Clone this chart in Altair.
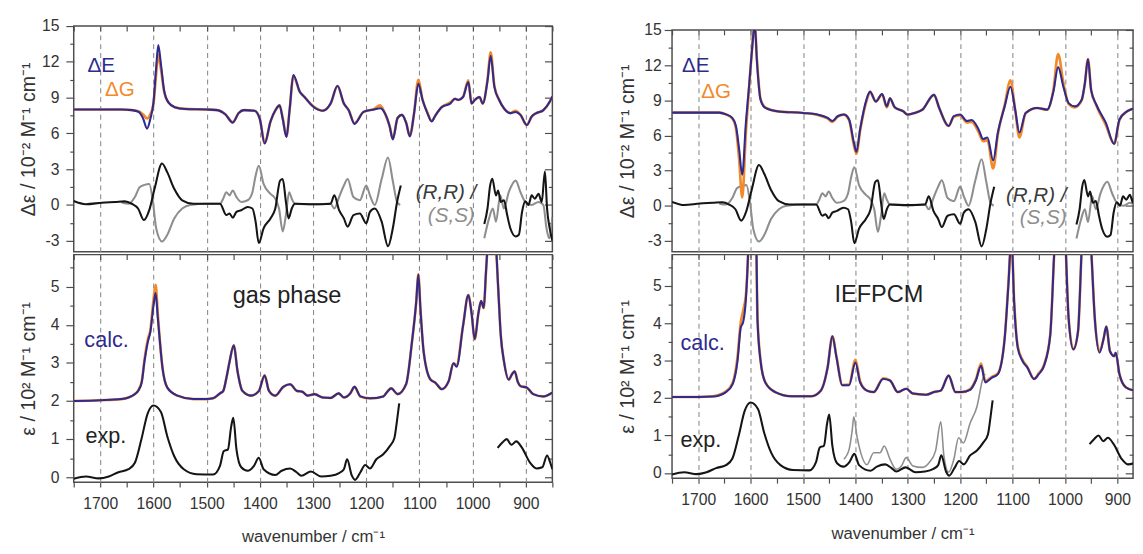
import altair as alt
import pandas as pd

# ---------------- data ----------------
# experimental VCD, (R,R) enantiomer (black), two recorded windows
CD_RR_W1 = [1750, 1727, 1697, 1672, 1654, 1641, 1629, 1618, 1608, 1598, 1584, 1574, 1561, 1546, 1525, 1488, 1475, 1463, 1457, 1451,
            1444, 1435, 1423, 1414, 1408, 1402, 1393, 1380, 1371, 1362, 1357, 1351, 1346, 1340, 1334, 1300, 1267, 1260, 1251, 1242,
            1235, 1224, 1212, 1200, 1193, 1184, 1171, 1159, 1150, 1142, 1135]
CD_RR_V1 = [0.33, 0.06, 0.19, 0.25, 0.3, 0.1, -0.3, -1.27, -0.44, 1.35, 3.47, 2.73, 1.35, 0.39, 0.1, 0.1, 0.1, -0.85, -0.72, -1.07,
            -0.58, -0.44, -0.17, -0.3, -1.4, -3.2, -1.96, -1.13, -0.3, 2.04, 2.17, 0.25, -1.13, -0.3, 0.1, 0.05, 0.1, 0.8, -0.44, -1.13,
            -1.82, -0.85, -0.72, -1.54, -0.58, -0.3, -1.4, -3.47, -1.96, 0.25, 1.63]
CD_RR_W2 = [978, 972, 967, 963, 956, 952, 947, 941, 935, 929, 919, 913, 907, 901, 895, 889, 883, 876, 870, 864, 860, 855, 850]
CD_RR_V2 = [-1.6, -0.3, 1.63, 2.2, 0.8, 1.21, 0.25, 0.4, -0.85, -1.96, -2.64, -2.5, -0.58, 0.3, 0.0, 0.8, 0.52, 0.93, 0.25, 2.8,
            -0.3, -1.96, -3.0]
# experimental VCD, (S,S) enantiomer (grey)
CD_SS_W1 = [1660, 1647, 1635, 1626, 1617, 1608, 1601, 1595, 1584, 1574, 1561, 1546, 1531, 1500, 1475, 1469, 1463, 1457, 1451, 1444,
            1435, 1423, 1414, 1408, 1402, 1393, 1380, 1371, 1364, 1357, 1351, 1345, 1340, 1334, 1300, 1267, 1260, 1251, 1242, 1235,
            1224, 1212, 1200, 1193, 1184, 1171, 1159, 1150, 1142, 1136]
CD_SS_V1 = [0.2, 0.1, 0.66, 1.49, 1.68, 1.76, 0.25, -1.96, -3.06, -2.5, -1.13, -0.3, 0.0, 0.1, 0.1, 0.52, 1.07, 0.8, 1.21, 0.66,
            0.25, 0.39, 1.07, 2.45, 3.28, 1.76, 0.93, 0.52, -0.3, -2.23, -0.85, 1.07, 0.52, 0.1, 0.05, 0.1, -0.3, 0.66, 1.63, 2.17,
            0.66, 0.39, 1.63, 0.8, 0.0, 2.17, 3.97, 2.0, 0.25, 0.0]
CD_SS_W2 = [978, 969, 962, 956, 948, 941, 932, 919, 910, 901, 889, 876, 867, 861, 856, 850]
CD_SS_V2 = [-2.8, -1.13, -0.3, -1.4, 0.8, -0.3, 1.07, 2.04, 1.07, 0.25, 0.0, 0.25, 0.0, -1.96, -2.8, -1.0]

# experimental IR absorption (black)
IR_EXP_W1 = [1750, 1727, 1703, 1684, 1666, 1647, 1635, 1623, 1611, 1600, 1586, 1574, 1561, 1543, 1519, 1488, 1475, 1468, 1460, 1454,
             1450, 1444, 1435, 1423, 1411, 1402, 1393, 1371, 1359, 1343, 1331, 1322, 1304, 1285, 1267, 1251, 1242, 1236, 1227, 1221,
             1211, 1202, 1193, 1181, 1168, 1156, 1147, 1142, 1138]
IR_EXP_V1 = [-0.04, 0.02, -0.03, 0.02, 0.13, 0.21, 0.38, 0.98, 1.67, 1.88, 1.71, 1.07, 0.55, 0.21, 0.08, 0.07, 0.3, 0.68, 0.73, 1.32,
             1.56, 0.73, 0.26, 0.17, 0.3, 0.51, 0.21, 0.06, 0.17, 0.23, 0.13, 0.04, 0.15, 0.02, 0.04, 0.11, 0.21, 0.47, 0.04, -0.07,
             0.13, 0.32, 0.23, 0.47, 0.6, 0.81, 1.03, 1.5, 1.94]
IR_EXP_W2 = [953, 944, 936, 927, 918, 907, 892, 880, 869, 860, 854, 850]
IR_EXP_V2 = [0.77, 0.91, 1.0, 0.85, 0.94, 0.77, 0.38, 0.23, 0.26, 0.57, 0.38, 0.21]
# second experimental IR trace (grey, IEFPCM panel only)
IR_EXP2_W = [1422, 1412, 1406, 1403, 1397, 1390, 1378, 1365, 1353, 1345, 1334, 1322, 1312, 1303, 1290, 1272, 1259, 1247, 1237, 1231,
             1222, 1212, 1203, 1194, 1181, 1168, 1156, 1152]
IR_EXP2_V = [0.37, 0.63, 1.15, 1.5, 0.98, 0.55, 0.22, 0.54, 0.54, 0.72, 0.37, 0.1, 0.19, 0.41, 0.19, 0.15, 0.28, 0.59, 1.37, 0.45,
             0.02, 0.37, 0.94, 0.8, 1.33, 1.77, 2.55, 2.64]

# gas phase, calculated VCD (offset +8)
GAS_VCD_W = [1750, 1700, 1660, 1640, 1628, 1620, 1612, 1606, 1600, 1595, 1591, 1586, 1580, 1572, 1560, 1540, 1500, 1480, 1465, 1451,
             1440, 1430, 1410, 1400, 1391, 1380, 1370, 1363, 1357, 1350, 1344, 1337, 1325, 1316, 1300, 1282, 1267, 1254, 1242, 1233,
             1222, 1205, 1185, 1174, 1165, 1156, 1150, 1141, 1133, 1125, 1118, 1110, 1102, 1094, 1085, 1077, 1070, 1058, 1042, 1033,
             1027, 1018, 1008, 1002, 996, 987, 981, 972, 966, 959, 950, 941, 929, 919, 910, 898, 889, 880, 867, 855, 850]
GAS_VCD_DE = [8.0, 8.0, 8.0, 7.95, 7.8, 7.3, 6.4, 7.2, 8.6, 11.5, 13.4, 11.8, 9.6, 8.6, 8.2, 8.05, 8.0, 7.95, 7.6, 6.9,
              7.7, 7.95, 7.9, 7.2, 5.15, 7.0, 8.0, 8.35, 7.2, 5.7, 8.0, 10.9, 9.5, 9.05, 8.25, 7.9, 8.5, 10.0, 8.5, 7.95,
              6.8, 7.8, 8.0, 8.1, 7.7, 6.6, 5.5, 7.3, 7.55, 6.9, 5.75, 7.7, 10.15, 8.8, 7.7, 7.0, 7.5, 8.2, 8.5, 8.9,
              8.8, 9.05, 10.3, 8.5, 8.8, 9.05, 8.5, 10.4, 12.5, 9.9, 8.8, 8.1, 7.7, 7.8, 7.55, 6.7, 7.4, 7.7, 7.95, 8.65, 9.1]
GAS_VCD_DG = [8.0, 8.0, 8.0, 7.95, 7.85, 7.6, 7.25, 7.6, 8.5, 11.0, 12.6, 11.4, 9.5, 8.6, 8.2, 8.05, 8.0, 7.95, 7.6, 6.95,
              7.7, 7.95, 7.9, 7.2, 5.2, 7.0, 8.0, 8.35, 7.3, 5.75, 8.0, 10.8, 9.5, 9.05, 8.3, 7.9, 8.5, 9.95, 8.5, 7.95,
              6.85, 7.8, 8.05, 8.35, 7.7, 6.6, 5.55, 7.3, 7.55, 6.9, 5.8, 7.7, 10.5, 8.8, 7.75, 7.05, 7.5, 8.2, 8.6, 8.9,
              8.8, 9.05, 10.45, 8.5, 8.8, 9.05, 8.5, 10.5, 12.8, 9.95, 8.8, 8.1, 7.7, 7.9, 7.55, 6.7, 7.4, 7.7, 7.95, 8.65, 9.1]

# gas phase, calculated IR (offset +2)
GAS_IR_W = [1750, 1700, 1660, 1647, 1635, 1629, 1622, 1617, 1610, 1606, 1600, 1596, 1592, 1589, 1583, 1574, 1555, 1525, 1500, 1488,
            1475, 1469, 1463, 1457, 1449, 1442, 1433, 1417, 1402, 1391, 1383, 1371, 1356, 1343, 1331, 1320, 1310, 1297, 1282, 1267,
            1252, 1242, 1230, 1222, 1211, 1193, 1168, 1160, 1153, 1141, 1125, 1114, 1106, 1102, 1098, 1092, 1079, 1070, 1058, 1045,
            1036, 1030, 1018, 1008, 1002, 996, 989, 984, 979, 975, 970, 965, 958, 952, 947, 941, 932, 926, 921, 915,
            910, 898, 886, 867, 850]
GAS_IR_DE = [2.0, 2.02, 2.05, 2.09, 2.18, 2.26, 2.5, 3.03, 3.59, 3.8, 4.5, 4.83, 4.2, 3.72, 2.86, 2.35, 2.14, 2.05, 2.05, 2.07,
             2.2, 2.26, 2.6, 3.03, 3.46, 2.78, 2.27, 2.14, 2.26, 2.67, 2.27, 2.14, 2.37, 2.44, 2.27, 2.24, 2.14, 2.18, 2.09, 2.08,
             2.2, 2.09, 2.2, 2.37, 2.12, 2.07, 2.12, 2.25, 2.33, 2.18, 2.44, 3.55, 4.6, 5.32, 4.4, 3.29, 2.56, 2.48, 2.31, 2.52,
             2.99, 2.9, 3.97, 4.78, 4.31, 3.62, 4.31, 4.62, 4.44, 5.34, 6.5, 7.5, 6.6, 5.0, 3.72, 3.04, 2.56, 2.7, 2.78, 2.5,
             2.39, 2.35, 2.18, 2.12, 2.22]
GAS_IR_DG = [2.0, 2.02, 2.05, 2.09, 2.18, 2.27, 2.52, 3.08, 3.65, 3.85, 4.65, 5.05, 4.3, 3.75, 2.86, 2.35, 2.14, 2.05, 2.05, 2.07,
             2.2, 2.26, 2.6, 3.03, 3.46, 2.78, 2.27, 2.14, 2.26, 2.67, 2.27, 2.14, 2.37, 2.44, 2.27, 2.24, 2.14, 2.18, 2.09, 2.08,
             2.2, 2.09, 2.2, 2.37, 2.12, 2.07, 2.12, 2.25, 2.33, 2.18, 2.44, 3.55, 4.6, 5.32, 4.4, 3.29, 2.56, 2.48, 2.31, 2.52,
             2.99, 2.95, 3.97, 4.78, 4.31, 3.62, 4.31, 4.62, 4.44, 5.34, 6.5, 7.5, 6.6, 5.0, 3.72, 3.04, 2.56, 2.7, 2.78, 2.5,
             2.39, 2.35, 2.18, 2.12, 2.22]

# IEFPCM, calculated VCD (offset +8)
PCM_VCD_W = [1750, 1700, 1660, 1647, 1635, 1628, 1622, 1616, 1609, 1603, 1598, 1592, 1588, 1581, 1572, 1547, 1500, 1472, 1453, 1444,
             1434, 1422, 1412, 1403, 1398, 1391, 1379, 1372, 1361, 1349, 1340, 1334, 1325, 1309, 1300, 1287, 1272, 1250, 1240, 1222,
             1212, 1200, 1187, 1178, 1165, 1156, 1148, 1137, 1128, 1115, 1104, 1095, 1087, 1075, 1053, 1034, 1022, 1013, 1003, 993,
             981, 968, 962, 956, 950, 940, 922, 906, 896, 881, 866]
PCM_VCD_DE = [7.95, 7.95, 7.95, 7.8, 7.5, 6.8, 4.85, 2.65, 7.1, 10.2, 12.95, 15.5, 12.4, 9.05, 8.35, 8.05, 7.92, 7.78, 7.5, 7.23,
              7.64, 7.78, 7.36, 5.41, 4.6, 6.53, 9.04, 9.74, 8.9, 9.54, 8.48, 9.18, 8.4, 8.07, 7.78, 7.92, 8.2, 9.46, 8.34, 6.81,
              7.65, 7.78, 7.23, 7.31, 6.53, 5.69, 5.83, 3.88, 6.25, 8.48, 10.16, 8.2, 6.25, 7.92, 8.34, 8.2, 9.74, 11.83, 10.16, 8.76,
              8.48, 9.04, 10.43, 12.53, 9.87, 8.62, 7.09, 5.27, 7.36, 8.07, 8.34]
PCM_VCD_DG = [7.95, 7.95, 7.95, 7.8, 7.45, 6.6, 4.0, 0.7, 6.3, 10.0, 12.95, 15.5, 12.5, 9.1, 8.4, 8.05, 7.92, 7.75, 7.45, 7.15,
              7.6, 7.78, 7.3, 5.2, 4.45, 6.4, 8.9, 9.7, 8.9, 9.5, 8.4, 9.15, 8.4, 8.07, 7.78, 7.92, 8.2, 9.46, 8.34, 6.81,
              7.6, 7.7, 7.1, 7.15, 6.3, 5.5, 5.6, 3.18, 6.1, 8.6, 10.7, 8.2, 5.83, 7.9, 8.34, 8.2, 9.9, 12.95, 10.5, 8.7,
              8.4, 9.0, 10.43, 12.5, 9.87, 8.55, 6.9, 5.3, 7.3, 8.07, 8.34]

# IEFPCM, calculated IR (offset +2)
PCM_IR_W = [1750, 1700, 1672, 1647, 1634, 1625, 1619, 1614, 1609, 1604, 1598, 1592, 1587, 1581, 1572, 1553, 1522, 1484, 1466, 1453,
            1444, 1436, 1425, 1412, 1400, 1391, 1378, 1365, 1347, 1334, 1319, 1303, 1290, 1265, 1250, 1237, 1222, 1209, 1197, 1181,
            1170, 1160, 1152, 1140, 1128, 1115, 1108, 1102, 1097, 1090, 1081, 1072, 1059, 1050, 1040, 1028, 1020, 1010, 1000, 993,
            984, 975, 968, 960, 950, 943, 934, 926, 921, 914, 906, 903, 896, 884, 868]
PCM_IR_DE = [2.03, 2.03, 2.04, 2.16, 2.38, 2.99, 3.87, 4.04, 4.65, 6.2, 10.0, 9.0, 4.13, 2.99, 2.42, 2.16, 2.05, 2.05, 2.2, 2.82,
             3.65, 3.08, 2.34, 2.34, 2.95, 2.42, 2.2, 2.16, 2.51, 2.47, 2.16, 2.25, 2.12, 2.09, 2.16, 2.2, 2.6, 2.16, 2.16, 2.22,
             2.47, 2.86, 2.42, 2.54, 2.64, 3.6, 5.0, 6.3, 4.57, 3.34, 2.99, 2.82, 2.51, 2.64, 2.86, 3.69, 6.0, 8.0, 6.5, 4.13,
             3.3, 3.78, 6.0, 8.0, 6.0, 4.13, 3.21, 3.6, 3.91, 3.25, 3.12, 3.21, 2.64, 2.29, 2.2]
PCM_IR_DG = [2.03, 2.03, 2.05, 2.18, 2.42, 3.1, 4.0, 4.35, 4.75, 6.2, 10.0, 9.0, 4.2, 3.0, 2.42, 2.16, 2.05, 2.05, 2.2, 2.82,
             3.65, 3.1, 2.35, 2.36, 3.02, 2.45, 2.2, 2.16, 2.53, 2.47, 2.16, 2.25, 2.12, 2.09, 2.16, 2.2, 2.6, 2.16, 2.16, 2.24,
             2.5, 2.92, 2.45, 2.56, 2.66, 3.6, 5.05, 6.3, 4.6, 3.37, 3.02, 2.84, 2.51, 2.66, 2.88, 3.7, 6.0, 8.0, 6.5, 4.15,
             3.3, 3.78, 6.0, 8.0, 6.0, 4.13, 3.25, 3.6, 3.91, 3.25, 3.12, 3.21, 2.64, 2.29, 2.2]

# axis ticks
VCD_MAJOR = [-3, 0, 3, 6, 9, 12, 15]
VCD_MINOR = [-1.5, 1.5, 4.5, 7.5, 10.5, 13.5]
IR_MAJOR = [0, 1, 2, 3, 4, 5]
IR_MINOR = [0.5, 1.5, 2.5, 3.5, 4.5, 5.5]
X_LABELS = [900, 1000, 1100, 1200, 1300, 1400, 1500, 1600, 1700]
X_TICKS = [850, 900, 950, 1000, 1050, 1100, 1150, 1200, 1250, 1300, 1350, 1400, 1450, 1500, 1550, 1600, 1650, 1700, 1750]

# ---------------- styling ----------------
FONT = "Liberation Sans"
BLUE = "#2E2A8E"
ORANGE = "#F28A2C"
GRAY = "#8E8E8E"
BLACK = "#151515"
AX = "#4D4D4D"
LBL = "#333333"


def seg_frame(*pairs):
    parts = []
    for i, (w, v) in enumerate(pairs):
        assert len(w) == len(v), (len(w), len(v))
        parts.append(pd.DataFrame({"w": w, "v": v, "seg": i}))
    return pd.concat(parts, ignore_index=True)


def make_panel(xdom, ydom, ymajor, yminor, ytitle, width, height, series, texts,
               bottom_axis, label_pad, title_x):
    xs = alt.Scale(domain=xdom, reverse=True, nice=False, zero=False)
    ys = alt.Scale(domain=ydom, nice=False, zero=False)
    hundreds = [h for h in X_LABELS if xdom[0] <= h <= xdom[1]]
    fifties = [f for f in X_TICKS if xdom[0] <= f <= xdom[1]]
    base_df = series[0][0]

    def ax_layer(xaxis, yaxis):
        return alt.Chart(base_df).mark_line(strokeOpacity=0, clip=True).encode(
            x=alt.X("w:Q", scale=xs, axis=xaxis),
            y=alt.Y("v:Q", scale=ys, axis=yaxis),
            detail="seg:N")

    grid_x = alt.Axis(orient="top", values=hundreds, grid=True, gridDash=[5, 4], gridColor="#8C8C8C",
                      gridWidth=1.1, ticks=False, labels=False, domain=False, title=None)
    top_x = alt.Axis(orient="top", values=fifties, grid=False, ticks=True, tickSize=5, offset=-5,
                     tickColor=AX, tickWidth=1.2, labels=False, domain=False, title=None)
    left_major = alt.Axis(orient="left", values=ymajor, grid=False, tickSize=8, tickColor=AX, tickWidth=1.2,
                          labelFont=FONT, labelFontSize=16, labelColor=LBL, labelPadding=label_pad,
                          labelExpr="replace(datum.label, '\u2212', '-')", labelOverlap=False, labelFlush=False,
                          domain=False, title=ytitle, titleFont=FONT, titleFontSize=20, titleFontWeight="normal",
                          titleColor=LBL, titleX=title_x, titleBaseline="middle")
    left_minor = alt.Axis(orient="left", values=yminor, grid=False, tickSize=4, tickColor=AX, tickWidth=1.2,
                          labels=False, domain=False, title=None)
    right_major = alt.Axis(orient="right", values=ymajor, grid=False, tickSize=8, offset=-8, tickColor=AX,
                           tickWidth=1.2, labels=False, domain=False, title=None)
    right_minor = alt.Axis(orient="right", values=yminor, grid=False, tickSize=4, offset=-4, tickColor=AX,
                           tickWidth=1.2, labels=False, domain=False, title=None)
    if bottom_axis:
        bot_x = alt.Axis(orient="bottom", values=fifties, grid=False, tickSize=5, tickColor=AX, tickWidth=1.2,
                         format="d", labelExpr="datum.value % 100 == 0 ? datum.label : ''",
                         labelFont=FONT, labelFontSize=16, labelColor=LBL, labelPadding=9, labelOverlap=False,
                         labelFlush=False, title="wavenumber / cm\u207b\u00b9", titleFont=FONT, titleFontSize=17,
                         titleFontWeight="normal", titleColor=LBL, titlePadding=18, domain=False)
    else:
        bot_x = None

    layers = [ax_layer(grid_x, left_major), ax_layer(top_x, left_minor),
              ax_layer(bot_x, right_major), ax_layer(None, right_minor)]

    for df, color, sw in series:
        layers.append(alt.Chart(df).mark_line(clip=True, color=color, strokeWidth=sw, interpolate="monotone").encode(
            x=alt.X("w:Q", scale=xs, axis=None),
            y=alt.Y("v:Q", scale=ys, axis=None),
            detail="seg:N"))

    for label, w, v, color, size, italic, align in texts:
        tdf = pd.DataFrame({"w": [w], "v": [v], "t": [label]})
        layers.append(alt.Chart(tdf).mark_text(
            align=align, baseline="middle", font=FONT, fontSize=size, color=color,
            fontStyle="italic" if italic else "normal").encode(
            x=alt.X("w:Q", scale=xs, axis=None),
            y=alt.Y("v:Q", scale=ys, axis=None),
            text="t:N"))

    return alt.layer(*layers).resolve_axis(x="independent", y="independent").properties(
        width=width, height=height)


rr = seg_frame((CD_RR_W1, CD_RR_V1), (CD_RR_W2, CD_RR_V2))
ss = seg_frame((CD_SS_W1, CD_SS_V1), (CD_SS_W2, CD_SS_V2))
ir_exp = seg_frame((IR_EXP_W1, IR_EXP_V1), (IR_EXP_W2, IR_EXP_V2))
ir_exp2 = seg_frame((IR_EXP2_W, IR_EXP2_V))

VCD_TITLE = "\u0394\u03b5 / 10\u207b\u00b2 M\u207b\u00b9 cm\u207b\u00b9"
IR_TITLE = "\u03b5 / 10\u00b2 M\u207b\u00b9 cm\u207b\u00b9"

LX = [850, 1750]
RX = [870, 1750]

top_left = make_panel(
    LX, [-3.92, 15], VCD_MAJOR, VCD_MINOR, VCD_TITLE, 488, 230,
    [(ss, GRAY, 2.1), (rr, BLACK, 2.1),
     (seg_frame((GAS_VCD_W, GAS_VCD_DG)), ORANGE, 2.7), (seg_frame((GAS_VCD_W, GAS_VCD_DE)), BLUE, 2.1)],
    [("\u0394E", 1724, 11.65, BLUE, 21, False, "left"),
     ("\u0394G", 1691, 9.6, ORANGE, 21, False, "left"),
     ("(R,R) /", 993, 0.99, "#3A3A3A", 21, True, "right"),
     ("(S,S)", 996, -0.91, GRAY, 21, True, "right")],
    False, 7, -46)

bottom_left = make_panel(
    LX, [-0.13, 5.84], IR_MAJOR, IR_MINOR, IR_TITLE, 488, 232,
    [(ir_exp, BLACK, 2.1),
     (seg_frame((GAS_IR_W, GAS_IR_DG)), ORANGE, 2.7), (seg_frame((GAS_IR_W, GAS_IR_DE)), BLUE, 2.1)],
    [("gas phase", 1451, 4.75, "#222222", 24, False, "left"),
     ("calc.", 1730, 3.6, BLUE, 22, False, "left"),
     ("exp.", 1728, 1.07, "#222222", 22, False, "left")],
    True, 7, -46)

top_right = make_panel(
    RX, [-3.92, 15], VCD_MAJOR, VCD_MINOR, VCD_TITLE, 470, 226,
    [(ss, GRAY, 2.1), (rr, BLACK, 2.1),
     (seg_frame((PCM_VCD_W, PCM_VCD_DG)), ORANGE, 2.7), (seg_frame((PCM_VCD_W, PCM_VCD_DE)), BLUE, 2.1)],
    [("\u0394E", 1731, 11.94, BLUE, 21, False, "left"),
     ("\u0394G", 1694, 9.68, ORANGE, 21, False, "left"),
     ("(R,R) /", 997, 0.81, "#3A3A3A", 21, True, "right"),
     ("(S,S)", 997, -1.03, GRAY, 21, True, "right")],
    False, 3, -45)

bottom_right = make_panel(
    RX, [-0.14, 5.83], IR_MAJOR, IR_MINOR, IR_TITLE, 470, 228,
    [(ir_exp2, GRAY, 1.6), (ir_exp, BLACK, 2.1),
     (seg_frame((PCM_IR_W, PCM_IR_DG)), ORANGE, 2.7), (seg_frame((PCM_IR_W, PCM_IR_DE)), BLUE, 2.1)],
    [("IEFPCM", 1440, 4.76, "#222222", 24, False, "left"),
     ("calc.", 1734, 3.47, BLUE, 22, False, "left"),
     ("exp.", 1734, 0.89, "#222222", 22, False, "left")],
    True, 3, -45)

left_col = alt.vconcat(top_left, bottom_left, spacing=0)
right_col = alt.vconcat(top_right, bottom_right, spacing=0)

chart = alt.hconcat(left_col, right_col, spacing=64, center=True).properties(
    padding={"left": 10, "top": 4, "right": 0, "bottom": 0},
    background="white",
).configure_view(stroke=AX, strokeWidth=1.5)

chart.save("out.html", embed_options={"renderer": "svg", "actions": False})
